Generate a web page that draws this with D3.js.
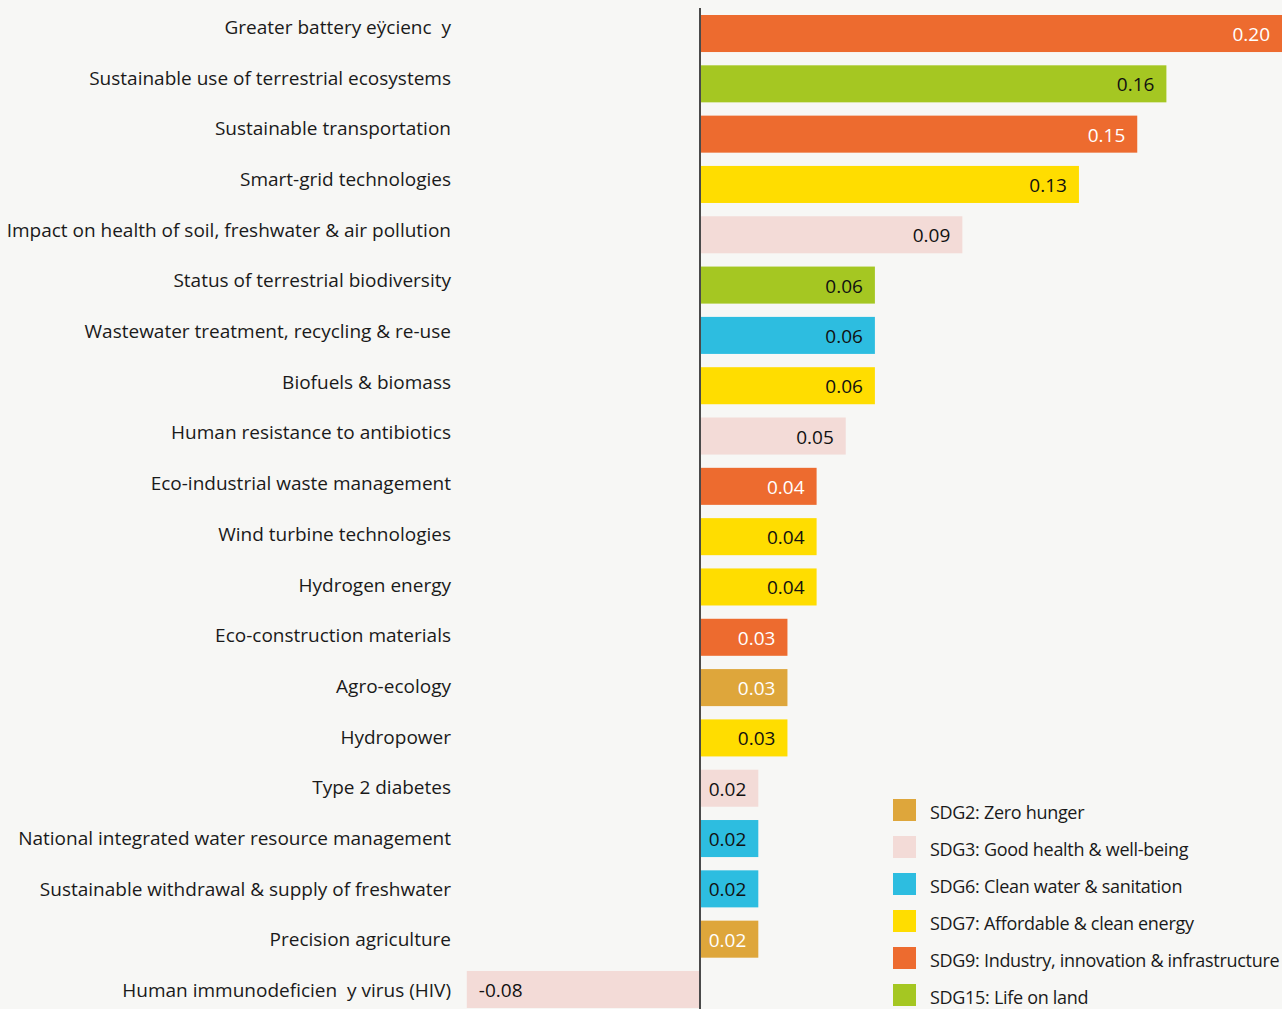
<!DOCTYPE html>
<html>
<head>
<meta charset="utf-8">
<script src="https://cdn.jsdelivr.net/npm/d3@7"></script>
<style>
  body { margin: 0; background: #f7f7f5; }
  text { font-family: "Open Sans", sans-serif; }
</style>
</head>
<body>
<div id="chart_area"></div>
<script>

var categories = [
	"Greater battery eÿcienc\u00a0 y",
	"Sustainable use of terrestrial ecosystems",
	"Sustainable transportation",
	"Smart-grid technologies",
	"Impact on health of soil, freshwater & air pollution",
	"Status of terrestrial biodiversity",
	"Wastewater treatment, recycling & re-use",
	"Biofuels & biomass",
	"Human resistance to antibiotics",
	"Eco-industrial waste management",
	"Wind turbine technologies",
	"Hydrogen energy",
	"Eco-construction materials",
	"Agro-ecology",
	"Hydropower",
	"Type 2 diabetes",
	"National integrated water resource management",
	"Sustainable withdrawal & supply of freshwater",
	"Precision agriculture",
	"Human immunodeficien\u00a0 y virus (HIV)"
];

var values = [0.20, 0.16, 0.15, 0.13, 0.09, 0.06, 0.06, 0.06, 0.05, 0.04,
              0.04, 0.04, 0.03, 0.03, 0.03, 0.02, 0.02, 0.02, 0.02, -0.08];

var goals = ["SDG9", "SDG15", "SDG9", "SDG7", "SDG3", "SDG15", "SDG6", "SDG7", "SDG3", "SDG9",
             "SDG7", "SDG7", "SDG9", "SDG2", "SDG7", "SDG3", "SDG6", "SDG6", "SDG2", "SDG3"];

var legend_keys = ["SDG2", "SDG3", "SDG6", "SDG7", "SDG9", "SDG15"];
var legend_labels = [
	"SDG2: Zero hunger",
	"SDG3: Good health & well-being",
	"SDG6: Clean water & sanitation",
	"SDG7: Affordable & clean energy",
	"SDG9: Industry, innovation & infrastructure",
	"SDG15: Life on land"
];
var legend_colours = ["#dea63b", "#f3dbd7", "#2dbde0", "#ffdd00", "#ed6b2f", "#a5c722"];

// goals whose value labels are drawn in white
var white_text = ["SDG2", "SDG9"];

var rows = categories.map(function(c, i) {
	return {name: c, value: values[i], goal: goals[i]};
});

var frame_width = 1282;
var frame_height = 1009;

var frame = d3.select("#chart_area").append("svg")
	.attr("width", frame_width)
	.attr("height", frame_height);

var xScale = d3.scaleLinear()
	.domain([0, 0.20])
	.range([700, 1283]);

var yScale = d3.scaleBand()
	.domain(categories)
	.range([15, 1008])
	.paddingInner(0.264)
	.paddingOuter(0);

// the category labels sit on a slightly wider spacing than the bars
var labelScale = d3.scalePoint()
	.domain(categories)
	.range([34, 997]);

var colourScale = d3.scaleOrdinal()
	.domain(legend_keys)
	.range(legend_colours);

var fmt = function(v) { return d3.format(".2f")(v).replace("\u2212", "-"); };

// bars
frame.append("g").selectAll("rect")
	.data(rows)
	.enter().append("rect")
	.attr("x", function(d) { return d.value < 0 ? xScale(d.value) : xScale(0) + 1; })
	.attr("y", function(d) { return yScale(d.name); })
	.attr("width", function(d) { return Math.abs(xScale(d.value) - xScale(0)) - 1; })
	.attr("height", yScale.bandwidth())
	.attr("fill", function(d) { return colourScale(d.goal); });

// zero line
frame.append("line")
	.attr("x1", xScale(0)).attr("x2", xScale(0))
	.attr("y1", 8).attr("y2", frame_height)
	.attr("stroke", "#111")
	.attr("stroke-width", 1.5);

// value labels inside the bars
frame.append("g").selectAll("text")
	.data(rows)
	.enter().append("text")
	.attr("x", function(d) { return d.value < 0 ? xScale(d.value) + 12 : Math.min(xScale(d.value), frame_width) - 12; })
	.attr("y", function(d) { return yScale(d.name) + yScale.bandwidth() / 2 + 7.5; })
	.attr("text-anchor", function(d) { return d.value < 0 ? "start" : "end"; })
	.attr("font-size", "19px")
	.attr("fill", function(d) { return white_text.indexOf(d.goal) >= 0 ? "#fff" : "#111"; })
	.text(function(d) { return fmt(d.value); });

// category labels
frame.append("g").selectAll("text")
	.data(rows)
	.enter().append("text")
	.attr("x", 451)
	.attr("y", function(d) { return labelScale(d.name); })
	.attr("text-anchor", "end")
	.attr("font-size", "19px")
	.attr("fill", "#1a1a1a")
	.text(function(d) { return d.name; });

// legend
var legend = frame.append("g").selectAll("g")
	.data(legend_keys)
	.enter().append("g")
	.attr("transform", function(d, i) { return "translate(893," + (799 + i * 37) + ")"; });

legend.append("rect")
	.attr("width", 23)
	.attr("height", 22)
	.attr("fill", function(d) { return colourScale(d); });

legend.append("text")
	.attr("x", 37)
	.attr("y", 20)
	.attr("font-size", "18px")
	.attr("letter-spacing", "-0.3px")
	.attr("fill", "#1a1a1a")
	.text(function(d, i) { return legend_labels[i]; });

</script>
</body>
</html>
